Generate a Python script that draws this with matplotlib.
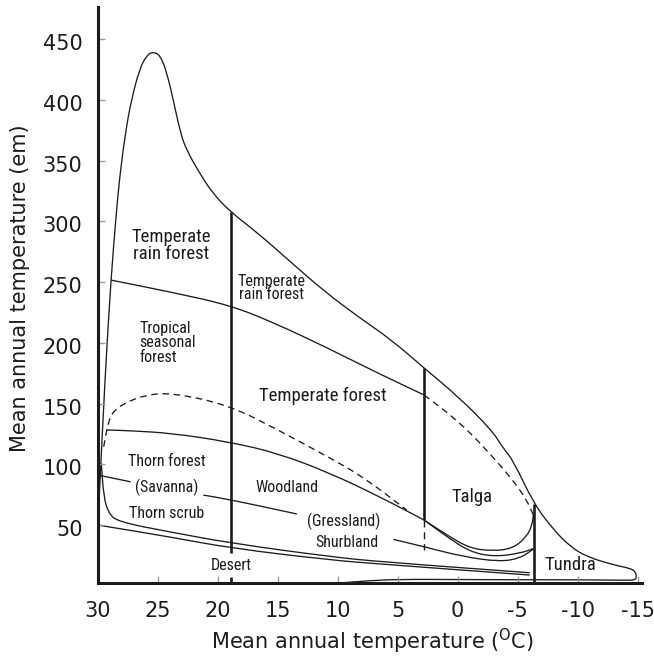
import numpy as np
import matplotlib.pyplot as plt
from matplotlib import font_manager
from matplotlib.path import Path
from matplotlib.patches import PathPatch
from matplotlib.transforms import ScaledTranslation

plt.rcParams['font.family'] = ['DejaVu Sans']
plt.rcParams['axes.unicode_minus'] = False
plt.rcParams['mathtext.fontset'] = 'dejavusans'

# Biome boundaries (temperature in degC, precipitation in cm)
outer_t = [30.0, 29.8, 29.4, 28.9, 28.5, 28.2, 27.7, 27.2, 26.5, 25.9, 25.4, 24.8,
           24.25, 23.7, 23.1, 22.6, 21.5, 20.4, 18.96, 16.6, 13.8, 11.06, 8.3, 5.5,
           2.78, -0.05, -2.83, -3.8, -4.6, -6.36, -8.0, -9.4, -10.75, -13.0, -14.4,
           -14.8, -14.9, -14.8, -14.0, -10.0, -6.36, 0.0, 4.8, 7.5, 10.1]
outer_p = [49.9, 87, 169.4, 251.7, 301, 334, 372.6, 399.9, 426, 437, 439.8, 437,
           423, 399.9, 372.8, 358.8, 339.6, 323, 308, 290, 265.5, 242, 221.5, 202.3,
           179, 155.6, 128.2, 113, 103.5, 67.2, 45.8, 32, 23.8, 17, 14.2,
           11.5, 7.4, 4.6, 4.4, 4.8, 4.8, 5.0, 5.2, 4.0, 1.9]

rainforest_t = [28.9, 24.0, 18.96, 15.2, 11.06, 6.9, 2.8]
rainforest_p = [251.7, 242, 231, 216, 196.8, 176.2, 157]

taiga_dash_t = [2.8, 0.05, -2.3, -4.6, -5.75, -6.3]
taiga_dash_p = [157, 136.4, 113, 87, 70.5, 58.2]

forest_dash_t = [29.5, 29.1, 28.6, 27.7, 26.1, 23.8, 19.1, 14.95, 10.6, 7.9, 4.25]
forest_dash_p = [114.4, 136.4, 144.6, 150.4, 157, 158.9, 148.8, 128.2, 104.9, 89.7, 62.3]

woodland_t = [29.25, 27.3, 23.8, 19.1, 14.95, 10.6, 6.5, 2.8]
woodland_p = [128.2, 127.6, 125.5, 118.5, 109, 92.5, 73.2, 54]

taiga_low_t = [2.8, 0.9, -1.0, -3.0, -4.6, -5.75, -6.2, -6.3]
taiga_low_p = [54, 41.7, 30.7, 28.5, 30.7, 40.3, 49.9, 58.2]

grass_low_t = [2.8, 0.9, -1.0, -3.0, -5.2, -6.36]
grass_low_p = [54, 40.3, 27.9, 23.8, 26.6, 30.7]

savanna_t = [30.0, 27.3]
savanna_p = [91.1, 85.6]
grassland_t = [21.2, 18.8, 13.4]
grassland_p = [74.6, 70.5, 59]
shrub_t = [5.36, 2.8, -0.47, -3.5, -5.2, -6.36]
shrub_p = [38.1, 32, 23.8, 19.7, 22.5, 30.5]

scrub_t = [29.7, 29.5, 29.1, 28.3, 24.1, 18.8, 10.6, 6.5, -6.0]
scrub_p = [100.7, 73.2, 59.6, 52.6, 44.4, 34.8, 23.8, 19.7, 10.6]

desert_t = [30.0, 24.1, 18.8, 10.6, 6.5, -6.0]
desert_p = [49.9, 40.3, 30.7, 21.1, 17.8, 8.7]

divider_t = [18.9, 2.8, -6.36]
divider_top = [307.5, 179, 67.2]
divider_bottom = [26.6, 54.0, 2.0]
taiga_gap_p = [54.0, 29.3]

label_text = ['Temperate\nrain forest', 'Temperate\nrain forest', 'Tropical\nseasonal\nforest',
              'Temperate forest', 'Thorn forest', '(Savanna)', 'Thorn scrub', 'Woodland',
              '(Gressland)', 'Shurbland', 'Desert', 'Talga', 'Tundra']
label_t = [23.9, 15.5, 26.56, 11.2, 24.25, 24.25, 24.25, 14.25, 9.47, 9.25, 18.9, -1.2, -9.35]
label_p = [279.9, 244.9, 200, 156.2, 102, 81, 59, 80.6, 52.6, 35.3, 16.4, 73.2, 17]
label_big = [True, False, False, True, False, False, False, False, False, False, False, True, True]

x_ticks = [30, 25, 20, 15, 10, 5, 0, -5, -10, -15]
y_ticks = [50, 100, 150, 200, 250, 300, 350, 400, 450]

ink = '#1c1c1c'

# the region names are set in a narrow grotesque; use one if it is installed
installed = {f.name for f in font_manager.fontManager.ttflist}
if 'Liberation Sans Narrow' in installed:
    narrow, small_fs, big_fs = 'Liberation Sans Narrow', 12, 14
elif 'Roboto Condensed' in installed:
    narrow, small_fs, big_fs = 'Roboto Condensed', 11.5, 13.5
else:
    narrow, small_fs, big_fs = 'Liberation Sans', 10.3, 12


def smooth_line(ax, xs, ys, **kw):
    # quadratic bezier through the midpoints of the read points
    pts = np.column_stack([xs, ys]).astype(float)
    mids = (pts[:-1] + pts[1:]) / 2
    verts = [pts[0], mids[0]]
    codes = [Path.MOVETO, Path.LINETO]
    for i in range(1, len(pts) - 1):
        verts += [pts[i], mids[i]]
        codes += [Path.CURVE3, Path.CURVE3]
    verts.append(pts[-1])
    codes.append(Path.LINETO)
    ax.add_patch(PathPatch(Path(verts, codes), fill=False, edgecolor=ink,
                           capstyle='butt', joinstyle='round', **kw))


fig = plt.figure(figsize=(6.54, 6.56), dpi=100)
ax = fig.add_axes([0.1494, 0.111, 0.8323, 0.879])

thin = 0.95
dash = (0, (5, 3.5))
smooth_line(ax, outer_t, outer_p, lw=thin)
smooth_line(ax, rainforest_t, rainforest_p, lw=thin)
smooth_line(ax, taiga_dash_t, taiga_dash_p, lw=thin, linestyle=dash)
smooth_line(ax, forest_dash_t, forest_dash_p, lw=thin, linestyle=dash)
smooth_line(ax, woodland_t, woodland_p, lw=thin)
smooth_line(ax, taiga_low_t, taiga_low_p, lw=thin)
smooth_line(ax, grass_low_t, grass_low_p, lw=thin)
ax.plot(savanna_t, savanna_p, color=ink, lw=thin)
smooth_line(ax, grassland_t, grassland_p, lw=thin)
smooth_line(ax, shrub_t, shrub_p, lw=thin)
smooth_line(ax, scrub_t, scrub_p, lw=thin)
smooth_line(ax, desert_t, desert_p, lw=thin)

for t, top, bot in zip(divider_t, divider_top, divider_bottom):
    ax.plot([t, t], [bot, top], color=ink, lw=1.9, solid_capstyle='butt')
ax.plot([divider_t[1], divider_t[1]], taiga_gap_p, color=ink, lw=1.0, linestyle=dash)
ax.plot([divider_t[0], divider_t[0]], [0, 7], color=ink, lw=1.9, solid_capstyle='butt')

for txt, t, p, big in zip(label_text, label_t, label_p, label_big):
    fs = big_fs if big else small_fs
    if txt.startswith('Tropical'):
        ax.text(t, p, txt, ha='left', va='center', fontsize=fs, family=narrow,
                color=ink, linespacing=0.95)
    else:
        ax.text(t, p, txt, ha='center', va='center', fontsize=fs, family=narrow,
                color=ink, linespacing=0.92 if big else 0.85)

ax.set_xlim(30, -15.36)
ax.set_ylim(2, 477)
ax.set_xticks(x_ticks)
ax.set_xticklabels([str(v) for v in x_ticks])
ax.set_yticks(y_ticks)
ax.tick_params(direction='in', length=5, width=1, color='#9a9a9a', labelsize=15,
               labelcolor=ink)
ax.tick_params(axis='x', pad=13)
ax.tick_params(axis='y', pad=11)
# the printed y labels sit a little below their ticks
shift = ScaledTranslation(0, -3 / 100, fig.dpi_scale_trans)
for lab in ax.get_yticklabels():
    lab.set_transform(lab.get_transform() + shift)
for side in ['top', 'right']:
    ax.spines[side].set_visible(False)
for side in ['left', 'bottom']:
    ax.spines[side].set_linewidth(2.2)
    ax.spines[side].set_color(ink)

fig.text(20 / 654, 1 - 288 / 656, 'Mean annual temperature (em)', rotation=90,
         ha='center', va='center', fontsize=15, color=ink)
fig.text(372 / 654, 1 - 649 / 656, r'Mean annual temperature ($^{\mathrm{O}}$C)',
         ha='center', va='baseline', fontsize=15, color=ink)

fig.savefig('out.png', dpi=100)
